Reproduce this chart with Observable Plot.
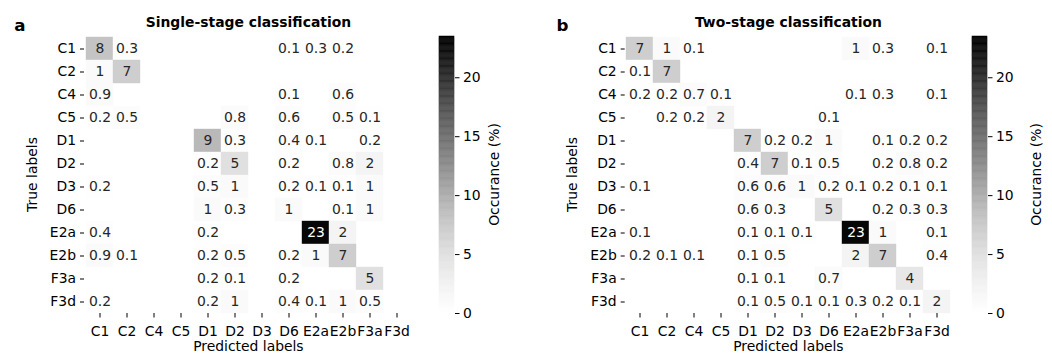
<!DOCTYPE html>
<html><head><meta charset="utf-8">
<script src="https://cdn.jsdelivr.net/npm/d3@7"></script>
<script src="https://cdn.jsdelivr.net/npm/@observablehq/plot@0.6"></script>
<style>
html,body{margin:0;padding:0;background:#fff;}
#chart{position:relative;width:1052px;height:356px;overflow:hidden;font-family:"DejaVu Sans",sans-serif;}
#chart svg{position:absolute;}
</style></head><body><div id="chart"></div>
<script>
// categories (rows = true labels, columns = predicted labels)
const labels = ["C1","C2","C4","C5","D1","D2","D3","D6","E2a","E2b","F3a","F3d"];
// Occurance (%) — null = empty cell
const singleStage = [
  [8,   0.3, null,null,null,null,null,0.1, 0.3, 0.2, null,null], // C1
  [1,   7,   null,null,null,null,null,null,null,null,null,null], // C2
  [0.9, null,null,null,null,null,null,0.1, null,0.6, null,null], // C4
  [0.2, 0.5, null,null,null,0.8, null,0.6, null,0.5, 0.1, null], // C5
  [null,null,null,null,9,   0.3, null,0.4, 0.1, null,0.2, null], // D1
  [null,null,null,null,0.2, 5,   null,0.2, null,0.8, 2,   null], // D2
  [0.2, null,null,null,0.5, 1,   null,0.2, 0.1, 0.1, 1,   null], // D3
  [null,null,null,null,1,   0.3, null,1,   null,0.1, 1,   null], // D6
  [0.4, null,null,null,0.2, null,null,null,23,  2,   null,null], // E2a
  [0.9, 0.1, null,null,0.2, 0.5, null,0.2, 1,   7,   null,null], // E2b
  [null,null,null,null,0.2, 0.1, null,0.2, null,null,5,   null], // F3a
  [0.2, null,null,null,0.2, 1,   null,0.4, 0.1, 1,   0.5, null]  // F3d
];
const twoStage = [
  [7,   1,   0.1, null,null,null,null,null,1,   0.3, null,0.1 ], // C1
  [0.1, 7,   null,null,null,null,null,null,null,null,null,null], // C2
  [0.2, 0.2, 0.7, 0.1, null,null,null,null,0.1, 0.3, null,0.1 ], // C4
  [null,0.2, 0.2, 2,   null,null,null,0.1, null,null,null,null], // C5
  [null,null,null,null,7,   0.2, 0.2, 1,   null,0.1, 0.2, 0.2 ], // D1
  [null,null,null,null,0.4, 7,   0.1, 0.5, null,0.2, 0.8, 0.2 ], // D2
  [0.1, null,null,null,0.6, 0.6, 1,   0.2, 0.1, 0.2, 0.1, 0.1 ], // D3
  [null,null,null,null,0.6, 0.3, null,5,   null,0.2, 0.3, 0.3 ], // D6
  [0.1, null,null,null,0.1, 0.1, 0.1, null,23,  1,   null,0.1 ], // E2a
  [0.2, 0.1, 0.1, null,0.1, 0.5, null,null,2,   7,   null,0.4 ], // E2b
  [null,null,null,null,0.1, 0.1, null,0.7, null,null,4,   null], // F3a
  [null,null,null,null,0.1, 0.5, 0.1, 0.1, 0.3, 0.2, 0.1, 2   ]  // F3d
];
const colorbarTicks = [0,5,10,15,20];
const colorMax = 23.5;
const panelTitles = ["Single-stage classification","Two-stage classification"];
const panelLetters = ["a","b"];
const xTitle = "Predicted labels";
const yTitle = "True labels";
const cbTitle = "Occurance (%)";

const FONT = "DejaVu Sans";
const FS = 13.9;
const chart = document.getElementById("chart");

function toCells(matrix){
  const out = [];
  matrix.forEach((row,i)=>row.forEach((v,j)=>{
    if (v != null) out.push({trueLabel: labels[i], predLabel: labels[j], value: v});
  }));
  return out;
}

const colorScale = {type:"linear", scheme:"greys", domain:[0, colorMax]};

function heatmap(matrix, left, ml, mr){
  const cells = toCells(matrix);
  const svg = Plot.plot({
    width: 430, height: 356,
    marginLeft: ml, marginRight: mr, marginTop: 36, marginBottom: 43,
    style: {fontFamily: FONT, fontSize: FS + "px", color: "#000", background: "transparent", overflow: "visible"},
    x: {type:"band", domain: labels, padding: 0, label: null},
    y: {type:"band", domain: labels, padding: 0, label: null},
    color: colorScale,
    marks: [
      Plot.cell(cells, {x:"predLabel", y:"trueLabel", fill:"value", inset: 0, stroke:"value", strokeWidth: 0.4}),
      Plot.text(cells.filter(d => d.value < 15), {x:"predLabel", y:"trueLabel", text: d => String(d.value), fill:"#262626", fontSize: FS}),
      Plot.text(cells.filter(d => d.value >= 15), {x:"predLabel", y:"trueLabel", text: d => String(d.value), fill:"#ffffff", fontSize: FS}),
      Plot.axisX({anchor:"bottom", label: null, tickSize: 4.5, tickPadding: 8, fontSize: FS}),
      Plot.axisY({anchor:"left", label: null, tickSize: 4, tickPadding: 4.5, fontSize: FS})
    ]
  });
  svg.style.left = left + "px";
  svg.style.top = "0px";
  chart.appendChild(svg);
}

function colorbar(left){
  const n = 240;
  const steps = d3.range(n).map(i => ({y1: colorMax*i/n, y2: colorMax*(i+1)/n}));
  const svg = Plot.plot({
    width: 75, height: 356,
    marginLeft: 0, marginRight: 60, marginTop: 36, marginBottom: 43,
    style: {fontFamily: FONT, fontSize: FS + "px", color: "#000", background: "transparent", overflow: "visible"},
    y: {domain:[0, colorMax], label: null},
    color: colorScale,
    marks: [
      Plot.rect(steps, {y1:"y1", y2:"y2", fill: d => (d.y1+d.y2)/2, stroke: d => (d.y1+d.y2)/2, strokeWidth: 0.5}),
      Plot.axisY(colorbarTicks, {anchor:"right", label: null, tickSize: 4.5, tickPadding: 4, fontSize: FS, tickFormat: d => String(d)})
    ]
  });
  svg.style.left = left + "px";
  svg.style.top = "0px";
  chart.appendChild(svg);
}

heatmap(singleStage, 0, 84, 17.3);
colorbar(439);
heatmap(twoStage, 540, 84.7, 18);
colorbar(972);

// overlay text: panel letters, titles, axis titles
const ov = d3.select(chart).append("svg")
  .attr("width", 1052).attr("height", 356)
  .style("left","0px").style("top","0px").style("pointer-events","none")
  .attr("font-family", FONT);

const panels = [
  {letterX: 14.2, center: 248.4, yLabX: 37, cbLabX: 498.5},
  {letterX: 556.5, center: 788.4, yLabX: 577, cbLabX: 1041}
];
panels.forEach((p, i) => {
  ov.append("text").attr("x", p.letterX).attr("y", 30.5).attr("font-size", 16.7).attr("font-weight","bold").attr("fill","#000").text(panelLetters[i]);
  ov.append("text").attr("x", p.center).attr("y", 27).attr("text-anchor","middle").attr("font-size", FS).attr("font-weight","bold").attr("fill","#000").text(panelTitles[i]);
  ov.append("text").attr("x", p.center).attr("y", 351).attr("text-anchor","middle").attr("font-size", FS).attr("fill","#000").text(xTitle);
  ov.append("text").attr("transform", `translate(${p.yLabX},174.5) rotate(-90)`).attr("text-anchor","middle").attr("font-size", FS).attr("fill","#000").text(yTitle);
  ov.append("text").attr("transform", `translate(${p.cbLabX},174.5) rotate(-90)`).attr("text-anchor","middle").attr("font-size", FS).attr("fill","#000").text(cbTitle);
});
</script></body></html>
